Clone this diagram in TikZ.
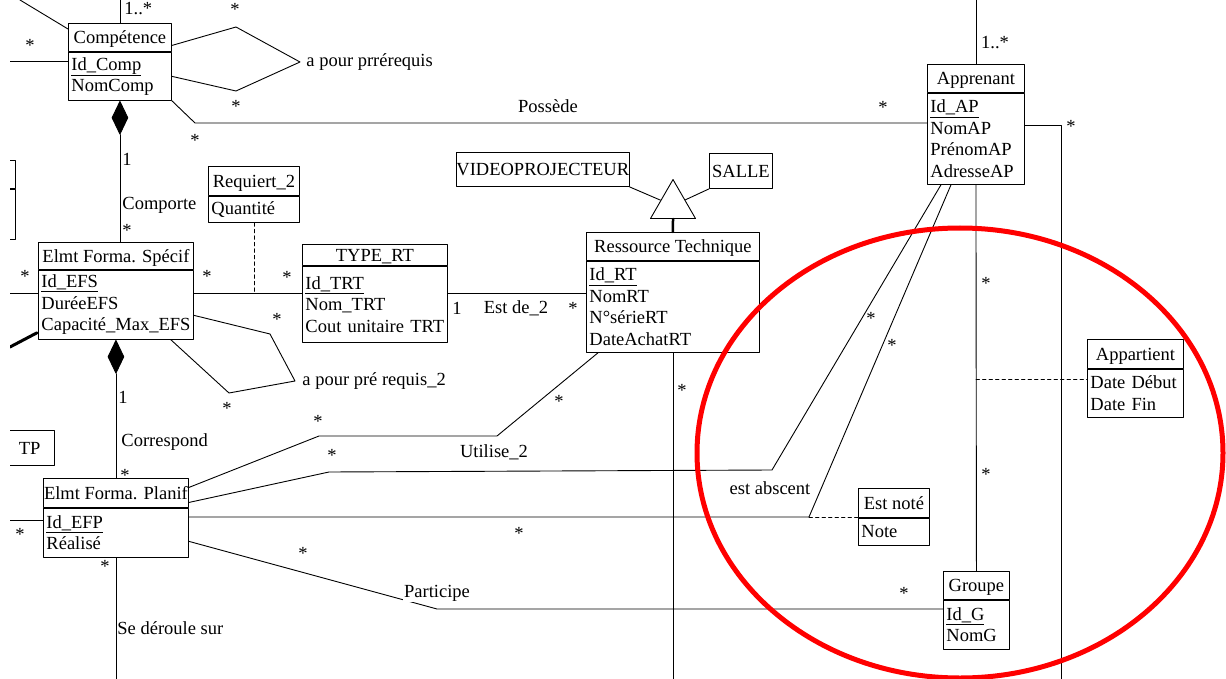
\documentclass[tikz,border=0pt]{standalone}
\usepackage{fontspec}
\setmainfont{Liberation Serif}
\usepackage{tikz}
\usetikzlibrary{positioning, calc, shapes.geometric}
\newcommand{\umlfont}{\fontsize{18.5}{21.5}\selectfont}
\tikzset{every node/.style={font=\umlfont}}
\tikzset{
    classhead/.style={draw, fill=white, inner sep=0pt, text height=14.5pt, text depth=1.5pt, anchor=north west},
    classattr/.style={draw, fill=white, align=left, inner xsep=3pt, inner ysep=0pt, below=0pt of #1},
    mult/.style={inner sep=0pt, yshift=-3pt},
    lbl/.style={inner sep=0pt, anchor=west},
    compo/.style={diamond, draw, fill=black, inner sep=0pt, minimum width=16pt, minimum height=33pt},
    gentri/.style={isosceles triangle, isosceles triangle stretches, shape border rotate=90, draw, fill=white, inner sep=0pt, minimum width=45pt, minimum height=39pt},
    linkdash/.style={dash pattern=on 3.5pt off 3pt},
}

\begin{document}
\begin{tikzpicture}[x=1pt, y=-1pt, line width=0.9pt, line cap=round, line join=round]
    \path [use as bounding box, fill=white] (0,0) rectangle (1226,679);
    \clip (10,0) rectangle (1226,679);

    % classes
    \node [classhead, minimum width=103pt, minimum height=28pt] (comp) at (68,23) {Compétence};
    \node [classattr=comp, text width=97pt, minimum height=48pt] (compA) {\underline{Id\_Comp}\\NomComp};
    \node [classhead, minimum width=91pt, minimum height=29pt] (req) at (208,166) {Requiert\_2};
    \node [classattr=req, text width=85pt, minimum height=26pt] (reqA) {Quantité};
    \node [classhead, minimum width=155pt, minimum height=27pt] (efs) at (38,242) {Elmt Forma. Spécif};
    \node [classattr=efs, text width=149pt, minimum height=69pt] (efsA) {\underline{Id\_EFS}\\DuréeEFS\\Capacité\_Max\_EFS};
    \node [classhead, minimum width=145pt, minimum height=21pt] (trt) at (302,244) {TYPE\_RT};
    \node [classattr=trt, text width=139pt, minimum height=76pt] (trtA) {\underline{Id\_TRT}\\Nom\_TRT\\Cout~unitaire~TRT};
    \node [classhead, minimum width=173pt, minimum height=28pt] (rt) at (586,232) {Ressource Technique};
    \node [classattr=rt, text width=167pt, minimum height=91pt] (rtA) {\underline{Id\_RT}\\NomRT\\N°sérieRT\\DateAchatRT};
    \node [classhead, minimum width=171pt, minimum height=34pt] (video) at (456,152) {VIDEOPROJECTEUR};
    \node [classhead, minimum width=63pt, minimum height=35pt] (salle) at (709,153) {SALLE};
    \node [classhead, minimum width=145pt, minimum height=29pt] (efp) at (43,478) {Elmt Forma. Planif};
    \node [classattr=efp, text width=139pt, minimum height=49pt] (efpA) {\underline{Id\_EFP}\\Réalisé};
    \node [classhead, minimum width=97pt, minimum height=28pt] (app) at (927,64) {Apprenant};
    \node [classattr=app, text width=91pt, minimum height=91pt] (appA) {\underline{Id\_AP}\\NomAP\\PrénomAP\\AdresseAP};
    \node [classhead, minimum width=96pt, minimum height=29pt] (appart) at (1087,339) {Appartient};
    \node [classattr=appart, text width=90pt, minimum height=48pt] (appartA) {Date~Début\\Date~Fin};
    \node [classhead, minimum width=71pt, minimum height=29pt] (note) at (858,488) {Est noté};
    \node [classattr=note, text width=65pt, minimum height=27pt] (noteA) {Note};
    \node [classhead, minimum width=66pt, minimum height=28pt] (grp) at (943,571) {Groupe};
    \node [classattr=grp, text width=60pt, minimum height=49pt] (grpA) {\underline{Id\_G}\\NomG};
    \node [classhead, anchor=north east, minimum width=50pt, minimum height=35pt] (tp) at (55,430) {TP};
    \node [classhead, anchor=north east, minimum width=40pt, minimum height=28pt] (side) at (16,160) {};
    \node [classattr=side, text width=34pt, minimum height=50pt] (sideA) {};

    \node [compo, below=0pt of compA] (dia1) {};
    \node [compo, below=0pt of efsA] (dia2) {};
    \node [gentri, anchor=south] (gen) at (673,219) {};

    % association names
    \node [lbl, inner xsep=6pt] (prereq) at (300,62) {a pour prrérequis};
    \node [lbl, inner xsep=7pt] (prereq2) at (295,381) {a pour pré requis\_2};
    \node (possede) at (548,106) {Possède};
    \node [lbl] (comporte) at (122,205) {Comporte};
    \node [lbl] (correspond) at (121,442) {Correspond};
    \node [lbl] (deroule) at (117,628) {Se déroule sur};
    \node (estde) at (516,308) {Est de\_2};
    \node (utilise) at (494,452) {Utilise\_2};
    \node (absent) at (770,488) {est abscent};

    % multiplicities
    \node [lbl] (compMult) at (124,9) {1..*};
    \node [inner sep=0pt] (appMult) at (995,43) {1..*};
    \node [inner sep=0pt] (oneA) at (127,159) {1};
    \node [inner sep=0pt] (oneB) at (123,397) {1};
    \node [inner sep=0pt] (oneC) at (457,308) {1};
    \foreach \p [count=\i] in {(30,42), (236,103), (195,137), (235,6), (127,227), (25,273), (207,273),
        (287,274), (277,316), (227,405), (318,418), (125,472), (20,531), (105,563), (303,550),
        (332,452), (519,530), (682,387), (559,398), (871,315), (892,342), (986,471), (904,590),
        (883,104), (1071,123), (986,280), (573,305)}
        \node [mult] (star\i) at \p {*};

    % connectors
    \coordinate (topC) at (20,0);
    \coordinate (botC) at (0,679);
    \coordinate (compL) at (10,61);
    \coordinate (efsL) at (10,293);
    \coordinate (efpL) at (10,520);
    \coordinate (thkB) at (10,347);
    \coordinate (possB) at (195,123);
    \coordinate (absB) at (809,517);
    \coordinate (partB) at (437,609);
    \coordinate (appR) at (1061,125);
    \coordinate (appD) at (976,379);

    \draw (topC) -- ($(comp.north west)+(0,6)$);
    \draw (comp.north) -- (comp.north |- topC);
    \draw (compL) -- (compL -| compA.west);
    \draw ($(comp.east)+(0,8)$) -- (236,27) -- (prereq.west) -- (236,91) -- (compA.east);
    \draw (compA.south east) -- (possB) -- (possB -| appA.west);
    \draw (dia1.south) -- (dia1.south |- efs.north);
    \draw [linkdash] (reqA.south) -- (reqA.south |- efsL);
    \draw (efsL) -- (efsL -| efsA.west);
    \draw (efsL -| efsA.east) -- (efsL -| trtA.west);
    \draw (efsL -| trtA.east) -- (efsL -| rtA.west);
    \draw [line width=3pt] (thkB) -- ($(efsA.south west)+(-1,-7)$);
    \draw ($(efsA.east)+(0,10.5)$) -- (270,334) -- (prereq2.west) -- (229,393) -- ($(efsA.south east)+(-23,0)$);
    \draw (dia2.south) -- (dia2.south |- efp.north);
    \draw (efpL) -- (efpL -| efpA.west);
    \draw (efpA.south) -- (efpA.south |- botC);
    \draw ($(efp.east)+(0,-5.5)$) -- (319,436) -- (497,436) -- ($(rtA.south west)+(12,0)$);
    \draw ($(efp.east)+(0,9.5)$) -- (329,472) -- (772,470) -- ($(appA.south west)+(14,0)$);
    \draw (absB -| efpA.east) -- (absB) -- ($(appA.south west)+(24,0)$);
    \draw [linkdash] (absB) -- (absB -| note.west);
    \draw ($(efpA.east)+(0,8.5)$) -- (partB) -- (partB -| grpA.west);
    \node [fill=white, inner sep=1pt] (participe) at (437,593) {Participe};
    \draw (rtA.south) -- (rtA.south |- botC);
    \draw [line width=2.5pt] (gen.south) -- (rt.north);
    \draw (video.south east) -- (gen);
    \draw (salle.south west) -- (gen);
    \draw (app.north) -- (app.north |- topC);
    \draw (appR -| appA.east) -- (appR) -- (appR |- botC);
    \draw (appA.south) -- (grp.north);
    \draw [linkdash] (appD) -- (appD -| appartA.west);

    % highlight
    \node [ellipse, draw=red, line width=5pt, minimum width=526pt, minimum height=450pt, inner sep=0pt] (focus) at (960,453) {};
\end{tikzpicture}
\end{document}
